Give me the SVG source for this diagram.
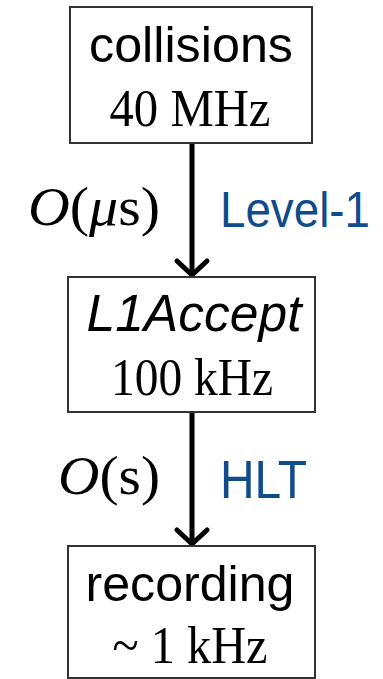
<svg xmlns="http://www.w3.org/2000/svg" width="383" height="679" viewBox="0 0 383 679">
<style>
.box{fill:#fff;stroke:#333;stroke-width:2}
.sans{font-family:"Liberation Sans",Arial,sans-serif;fill:#000}
.serif{font-family:"Liberation Serif","Times New Roman",serif;fill:#000}
.blue{font-family:"Liberation Sans",Arial,sans-serif;fill:#104b8c}
.conn{stroke:#000;stroke-width:5;fill:none}
.head{stroke:#000;stroke-width:5;fill:none;stroke-linecap:round;stroke-linejoin:round}
</style>
<rect width="383" height="679" fill="#fff"/>
<g id="connectors">
  <line class="conn" x1="192" y1="143" x2="192" y2="274"/>
  <polyline class="head" points="177,261 192,275 207,261"/>
  <line class="conn" x1="192" y1="412" x2="192" y2="543"/>
  <polyline class="head" points="177,530 192,544 207,530"/>
</g>
<g id="collisions">
  <rect class="box" x="70" y="7" width="242" height="136"/>
  <text class="sans" x="191" y="62" font-size="50" text-anchor="middle" textLength="204" lengthAdjust="spacingAndGlyphs">collisions</text>
  <text class="serif" x="190" y="126" font-size="52" text-anchor="middle" textLength="161" lengthAdjust="spacingAndGlyphs">40 MHz</text>
</g>
<g id="l1accept">
  <rect class="box" x="68" y="277" width="247" height="135"/>
  <text class="sans" x="194" y="331" font-size="52" font-style="italic" text-anchor="middle" textLength="215" lengthAdjust="spacingAndGlyphs">L1Accept</text>
  <text class="serif" x="192" y="395" font-size="53" text-anchor="middle" textLength="162" lengthAdjust="spacingAndGlyphs">100 kHz</text>
</g>
<g id="recording">
  <rect class="box" x="68" y="546" width="247" height="132"/>
  <text class="sans" x="190" y="601" font-size="50" text-anchor="middle" textLength="209" lengthAdjust="spacingAndGlyphs">recording</text>
  <text class="serif" x="190" y="663" font-size="53" text-anchor="middle" textLength="155" lengthAdjust="spacingAndGlyphs">~ 1 kHz</text>
</g>
<g id="labels">
  <text class="serif" x="28" y="225" font-size="54" textLength="132" lengthAdjust="spacingAndGlyphs"><tspan font-style="italic">O</tspan>(<tspan font-style="italic">μ</tspan>s)</text>
  <text class="blue" x="220" y="227" font-size="50" textLength="150" lengthAdjust="spacingAndGlyphs">Level-1</text>
  <text class="serif" x="58" y="494" font-size="54" textLength="102" lengthAdjust="spacingAndGlyphs"><tspan font-style="italic">O</tspan>(s)</text>
  <text class="blue" x="220" y="498" font-size="53" textLength="87" lengthAdjust="spacingAndGlyphs">HLT</text>
</g>
</svg>
